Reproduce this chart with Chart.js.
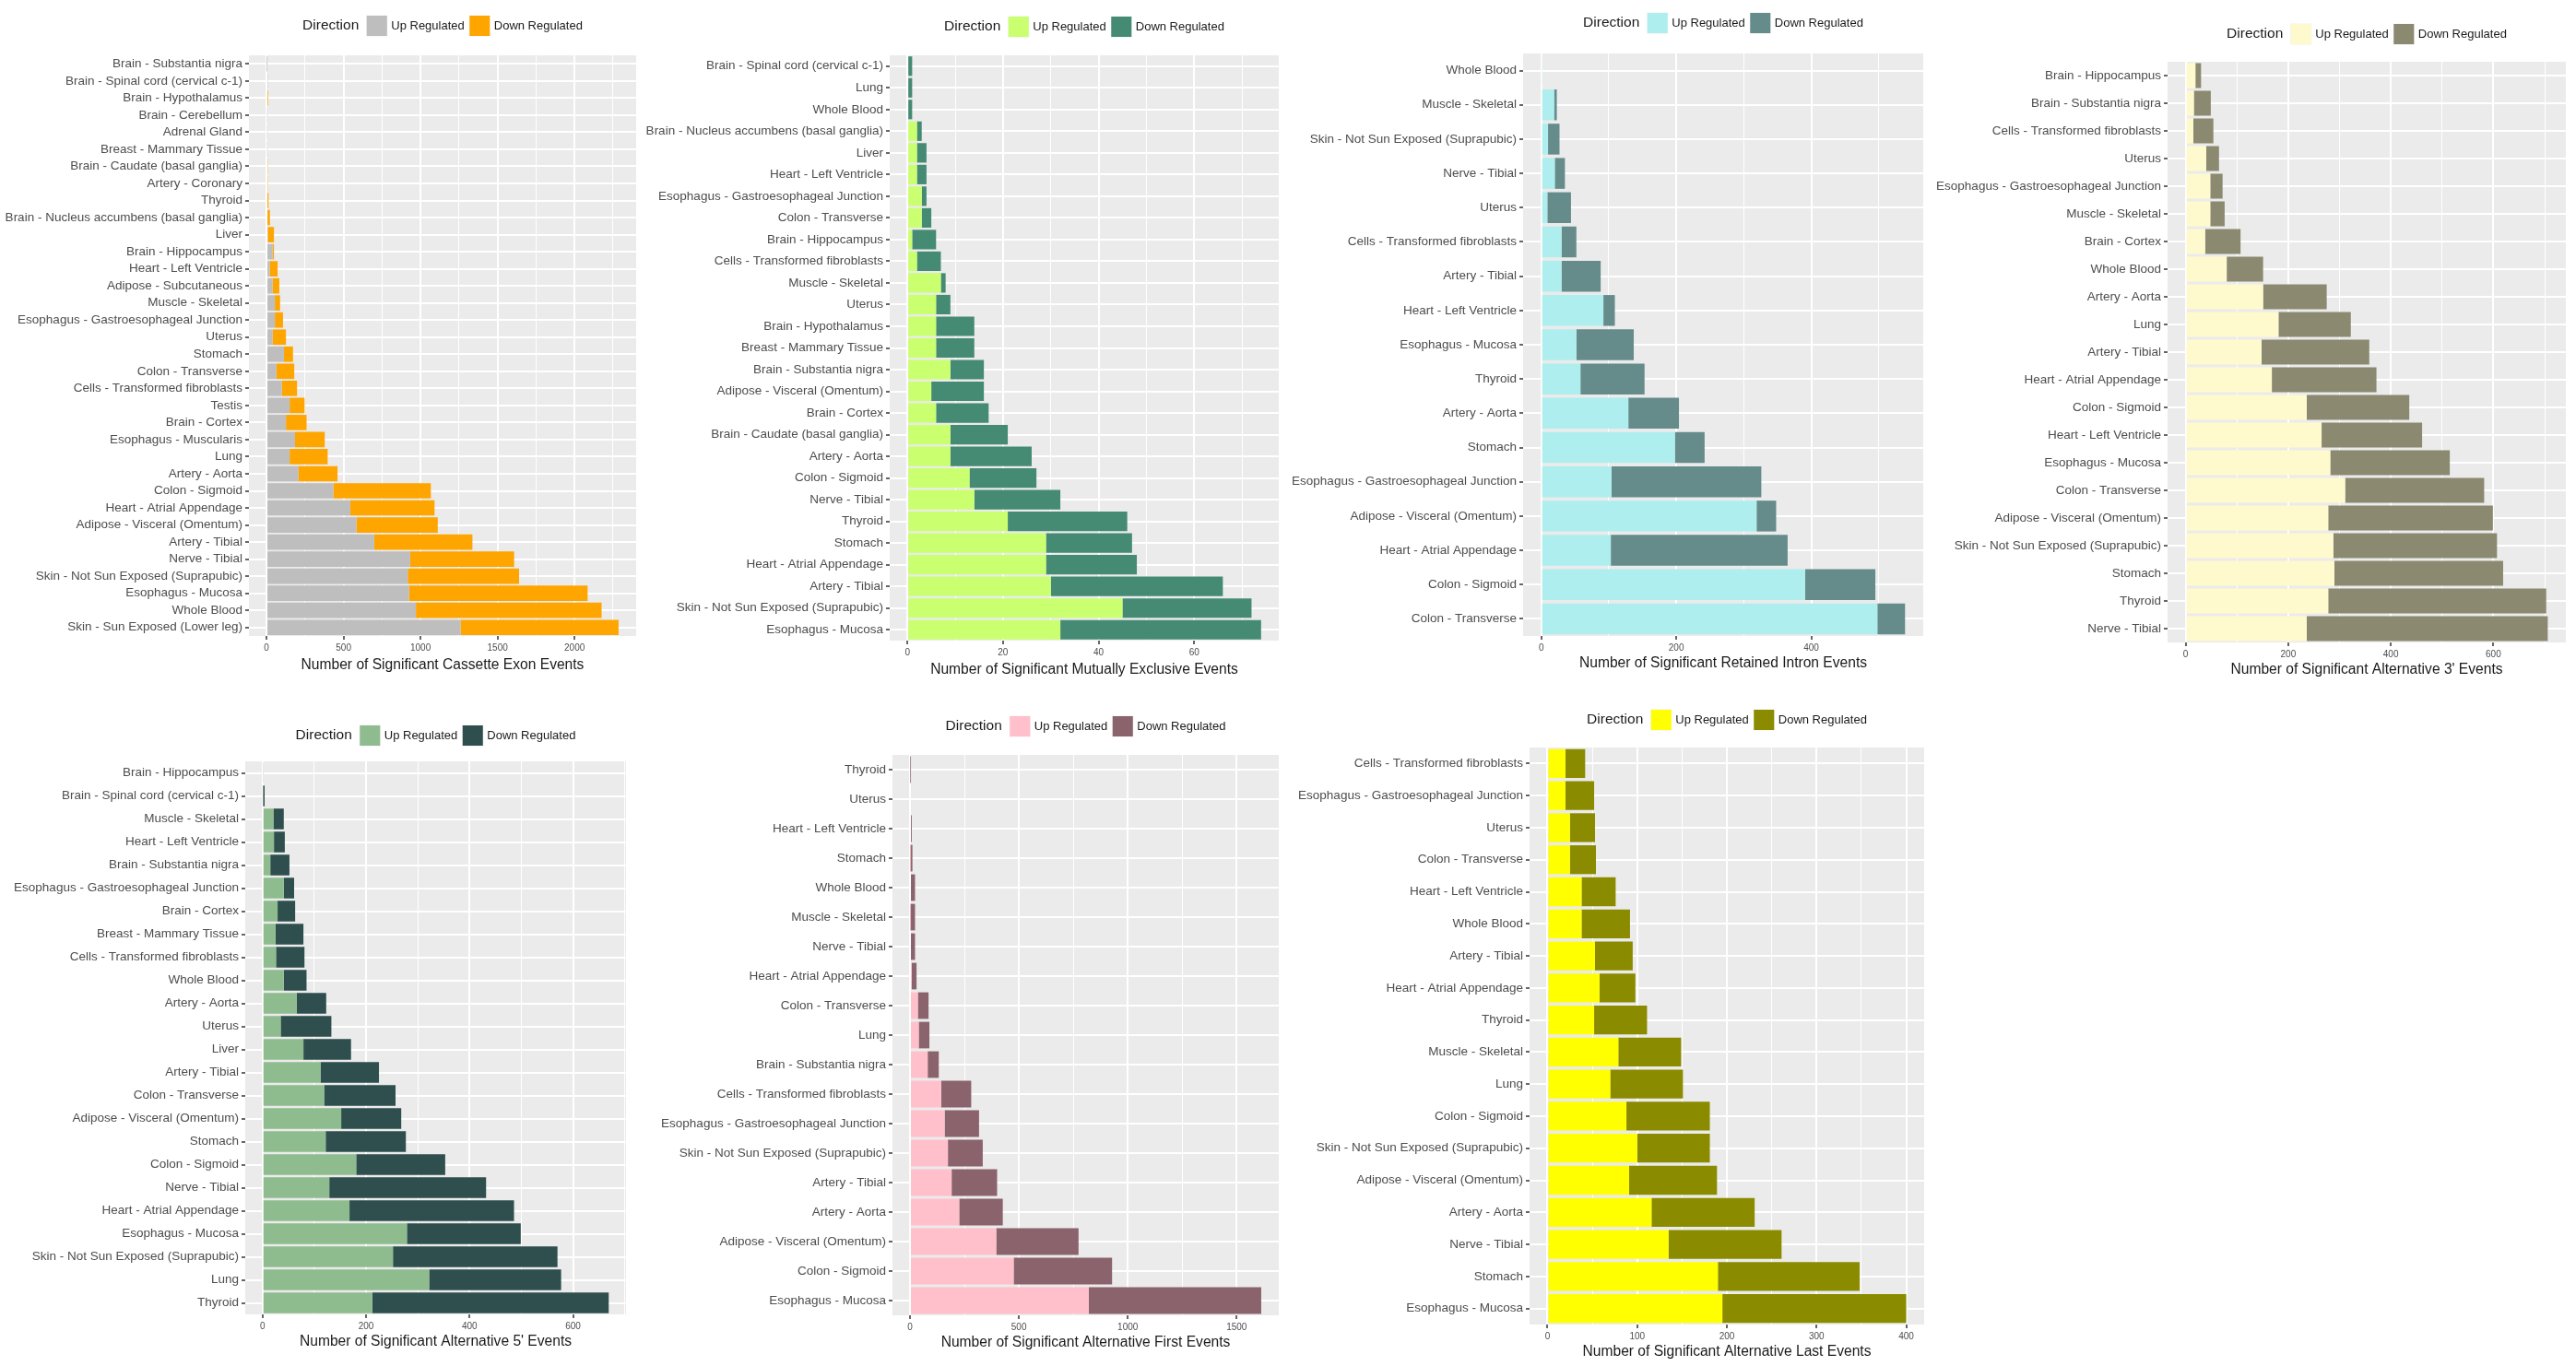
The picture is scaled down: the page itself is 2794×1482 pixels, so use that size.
<!DOCTYPE html>
<html>
<head>
<meta charset="utf-8">
<title>Significant splicing events by tissue</title>
<script src="https://cdn.jsdelivr.net/npm/chart.js@4/dist/chart.umd.min.js"></script>
<style>
  html, body { margin: 0; padding: 0; background: #ffffff; }
  body { width: 2794px; height: 1482px; position: relative; overflow: hidden; }
  canvas { position: absolute; }
</style>
</head>
<body>
<script>
// ---- Cassette exon events ----
const ceTissues = ['Brain - Substantia nigra', 'Brain - Spinal cord (cervical c-1)', 'Brain - Hypothalamus', 'Brain - Cerebellum', 'Adrenal Gland', 'Breast - Mammary Tissue', 'Brain - Caudate (basal ganglia)', 'Artery - Coronary', 'Thyroid', 'Brain - Nucleus accumbens (basal ganglia)', 'Liver', 'Brain - Hippocampus', 'Heart - Left Ventricle', 'Adipose - Subcutaneous', 'Muscle - Skeletal', 'Esophagus - Gastroesophageal Junction', 'Uterus', 'Stomach', 'Colon - Transverse', 'Cells - Transformed fibroblasts', 'Testis', 'Brain - Cortex', 'Esophagus - Muscularis', 'Lung', 'Artery - Aorta', 'Colon - Sigmoid', 'Heart - Atrial Appendage', 'Adipose - Visceral (Omentum)', 'Artery - Tibial', 'Nerve - Tibial', 'Skin - Not Sun Exposed (Suprapubic)', 'Esophagus - Mucosa', 'Whole Blood', 'Skin - Sun Exposed (Lower leg)'];
const ceUp   = [1, 8, 0, 4, 4, 4, 0, 0, 0, 6, 8, 40, 21, 40, 54, 54, 40, 113, 64, 99, 150, 126, 185, 150, 206, 434, 544, 584, 699, 933, 917, 925, 970, 1260];
const ceDown = [0, 0, 10, 0, 0, 0, 8, 8, 13, 16, 40, 8, 51, 43, 34, 53, 86, 59, 116, 99, 97, 134, 193, 247, 255, 633, 547, 528, 638, 675, 723, 1160, 1206, 1026];
const ceTicks = [0, 500, 1000, 1500, 2000];

// ---- Mutually exclusive exon events ----
const mxTissues = ['Brain - Spinal cord (cervical c-1)', 'Lung', 'Whole Blood', 'Brain - Nucleus accumbens (basal ganglia)', 'Liver', 'Heart - Left Ventricle', 'Esophagus - Gastroesophageal Junction', 'Colon - Transverse', 'Brain - Hippocampus', 'Cells - Transformed fibroblasts', 'Muscle - Skeletal', 'Uterus', 'Brain - Hypothalamus', 'Breast - Mammary Tissue', 'Brain - Substantia nigra', 'Adipose - Visceral (Omentum)', 'Brain - Cortex', 'Brain - Caudate (basal ganglia)', 'Artery - Aorta', 'Colon - Sigmoid', 'Nerve - Tibial', 'Thyroid', 'Stomach', 'Heart - Atrial Appendage', 'Artery - Tibial', 'Skin - Not Sun Exposed (Suprapubic)', 'Esophagus - Mucosa'];
const mxUp   = [0, 0, 0, 2, 2, 2, 3, 3, 1, 2, 7, 6, 6, 6, 9, 5, 6, 9, 9, 13, 14, 21, 29, 29, 30, 45, 32];
const mxDown = [1, 1, 1, 1, 2, 2, 1, 2, 5, 5, 1, 3, 8, 8, 7, 11, 11, 12, 17, 14, 18, 25, 18, 19, 36, 27, 42];
const mxTicks = [0, 20, 40, 60];

// ---- Retained intron events ----
const riTissues = ['Whole Blood', 'Muscle - Skeletal', 'Skin - Not Sun Exposed (Suprapubic)', 'Nerve - Tibial', 'Uterus', 'Cells - Transformed fibroblasts', 'Artery - Tibial', 'Heart - Left Ventricle', 'Esophagus - Mucosa', 'Thyroid', 'Artery - Aorta', 'Stomach', 'Esophagus - Gastroesophageal Junction', 'Adipose - Visceral (Omentum)', 'Heart - Atrial Appendage', 'Colon - Sigmoid', 'Colon - Transverse'];
const riUp   = [1, 19, 10, 20, 9, 30, 30, 92, 52, 58, 129, 198, 104, 319, 103, 391, 498];
const riDown = [0, 4, 17, 15, 35, 22, 58, 17, 85, 95, 75, 44, 222, 29, 262, 104, 41];
const riTicks = [0, 200, 400];

// ---- Alternative 3' splice site events ----
const a3Tissues = ['Brain - Hippocampus', 'Brain - Substantia nigra', 'Cells - Transformed fibroblasts', 'Uterus', 'Esophagus - Gastroesophageal Junction', 'Muscle - Skeletal', 'Brain - Cortex', 'Whole Blood', 'Artery - Aorta', 'Lung', 'Artery - Tibial', 'Heart - Atrial Appendage', 'Colon - Sigmoid', 'Heart - Left Ventricle', 'Esophagus - Mucosa', 'Colon - Transverse', 'Adipose - Visceral (Omentum)', 'Skin - Not Sun Exposed (Suprapubic)', 'Stomach', 'Thyroid', 'Nerve - Tibial'];
const a3Up   = [19, 16, 15, 40, 48, 48, 38, 80, 151, 181, 148, 168, 236, 265, 282, 311, 278, 288, 290, 278, 236];
const a3Down = [11, 33, 39, 25, 24, 28, 69, 71, 124, 141, 210, 204, 200, 196, 233, 271, 321, 319, 329, 425, 470];
const a3Ticks = [0, 200, 400, 600];

// ---- Alternative 5' splice site events ----
const a5Tissues = ['Brain - Hippocampus', 'Brain - Spinal cord (cervical c-1)', 'Muscle - Skeletal', 'Heart - Left Ventricle', 'Brain - Substantia nigra', 'Esophagus - Gastroesophageal Junction', 'Brain - Cortex', 'Breast - Mammary Tissue', 'Cells - Transformed fibroblasts', 'Whole Blood', 'Artery - Aorta', 'Uterus', 'Liver', 'Artery - Tibial', 'Colon - Transverse', 'Adipose - Visceral (Omentum)', 'Stomach', 'Colon - Sigmoid', 'Nerve - Tibial', 'Heart - Atrial Appendage', 'Esophagus - Mucosa', 'Skin - Not Sun Exposed (Suprapubic)', 'Lung', 'Thyroid'];
const a5Up   = [0, 1, 21, 22, 15, 41, 29, 25, 26, 41, 66, 35, 79, 112, 119, 152, 122, 181, 129, 168, 279, 252, 322, 212];
const a5Down = [2, 3, 20, 21, 37, 20, 34, 54, 55, 44, 57, 98, 92, 113, 138, 116, 155, 172, 303, 318, 220, 318, 255, 457];
const a5Ticks = [0, 200, 400, 600];

// ---- Alternative first exon events ----
const afTissues = ['Thyroid', 'Uterus', 'Heart - Left Ventricle', 'Stomach', 'Whole Blood', 'Muscle - Skeletal', 'Nerve - Tibial', 'Heart - Atrial Appendage', 'Colon - Transverse', 'Lung', 'Brain - Substantia nigra', 'Cells - Transformed fibroblasts', 'Esophagus - Gastroesophageal Junction', 'Skin - Not Sun Exposed (Suprapubic)', 'Artery - Tibial', 'Artery - Aorta', 'Adipose - Visceral (Omentum)', 'Colon - Sigmoid', 'Esophagus - Mucosa'];
const afUp   = [0, 4, 0, 1, 4, 2, 4, 8, 36, 40, 81, 143, 159, 174, 191, 226, 396, 476, 821];
const afDown = [1, 0, 8, 10, 19, 21, 19, 22, 49, 49, 51, 138, 158, 160, 209, 200, 378, 452, 792];
const afTicks = [0, 500, 1000, 1500];

// ---- Alternative last exon events ----
const alTissues = ['Cells - Transformed fibroblasts', 'Esophagus - Gastroesophageal Junction', 'Uterus', 'Colon - Transverse', 'Heart - Left Ventricle', 'Whole Blood', 'Artery - Tibial', 'Heart - Atrial Appendage', 'Thyroid', 'Muscle - Skeletal', 'Lung', 'Colon - Sigmoid', 'Skin - Not Sun Exposed (Suprapubic)', 'Adipose - Visceral (Omentum)', 'Artery - Aorta', 'Nerve - Tibial', 'Stomach', 'Esophagus - Mucosa'];
const alUp   = [20, 20, 25, 25, 38, 38, 53, 58, 52, 79, 70, 88, 100, 91, 116, 135, 190, 195];
const alDown = [22, 32, 28, 29, 38, 54, 42, 40, 59, 70, 81, 93, 81, 98, 115, 126, 158, 205];
const alTicks = [0, 100, 200, 300, 400];

const seriesNames = ['Up Regulated', 'Down Regulated'];
const FONT = '"Liberation Sans", Arial, Helvetica, sans-serif';

// Panel layout: canvas box, plotting panel rectangle, legend row and axis title row (page pixels)
const panels = [
  { tissues: ceTissues, up: ceUp, down: ceDown, ticks: ceTicks, title: 'Number of Significant Cassette Exon Events',
    colors: ['#BEBEBE', '#FFA500'], box: { x: 0, y: 0, w: 695, h: 745 }, plot: { l: 270, r: 690, t: 60, b: 690 }, legendY: 28, titleY: 722 },
  { tissues: mxTissues, up: mxUp, down: mxDown, ticks: mxTicks, title: 'Number of Significant Mutually Exclusive Events',
    colors: ['#CAFF70', '#458B74'], box: { x: 695, y: 0, w: 697, h: 745 }, plot: { l: 965, r: 1387, t: 60, b: 695 }, legendY: 29, titleY: 727 },
  { tissues: riTissues, up: riUp, down: riDown, ticks: riTicks, title: 'Number of Significant Retained Intron Events',
    colors: ['#AEEEEE', '#668B8B'], box: { x: 1392, y: 0, w: 697, h: 745 }, plot: { l: 1652, r: 2086, t: 58, b: 690 }, legendY: 25, titleY: 720 },
  { tissues: a3Tissues, up: a3Up, down: a3Down, ticks: a3Ticks, title: "Number of Significant Alternative 3' Events",
    colors: ['#FFFACD', '#8B8970'], box: { x: 2089, y: 0, w: 705, h: 745 }, plot: { l: 2351, r: 2783, t: 67, b: 697 }, legendY: 37, titleY: 727 },
  { tissues: a5Tissues, up: a5Up, down: a5Down, ticks: a5Ticks, title: "Number of Significant Alternative 5' Events",
    colors: ['#8FBC8F', '#2F4F4F'], box: { x: 0, y: 760, w: 695, h: 722 }, plot: { l: 266, r: 679, t: 826, b: 1426 }, legendY: 798, titleY: 1456 },
  { tissues: afTissues, up: afUp, down: afDown, ticks: afTicks, title: 'Number of Significant Alternative First Events',
    colors: ['#FFC0CB', '#8B636C'], box: { x: 695, y: 760, w: 697, h: 722 }, plot: { l: 968, r: 1387, t: 819, b: 1427 }, legendY: 788, titleY: 1457 },
  { tissues: alTissues, up: alUp, down: alDown, ticks: alTicks, title: 'Number of Significant Alternative Last Events',
    colors: ['#FFFF00', '#8B8B00'], box: { x: 1392, y: 760, w: 697, h: 722 }, plot: { l: 1659, r: 2087, t: 811, b: 1437 }, legendY: 781, titleY: 1467 }
];

// Grey plotting panel behind the grid
const panelBackground = {
  id: 'panelBackground',
  beforeDraw(chart) {
    const { ctx, chartArea: a } = chart;
    ctx.save();
    ctx.fillStyle = '#FFFFFF';
    ctx.fillRect(0, 0, chart.width, chart.height);
    ctx.fillStyle = '#EBEBEB';
    ctx.fillRect(a.left, a.top, a.right - a.left, a.bottom - a.top);
    ctx.restore();
  }
};

// One-row legend: "Direction" heading followed by the two colour keys
const directionLegend = {
  id: 'directionLegend',
  afterDraw(chart, args, opts) {
    const { ctx, chartArea: a } = chart;
    const headFont = '15.5px ' + FONT, itemFont = '13px ' + FONT;
    const key = 23, afterHead = 8, afterKey = 4, betweenItems = 5;
    ctx.save();
    ctx.textBaseline = 'middle';
    ctx.textAlign = 'left';
    ctx.font = headFont;
    const headW = ctx.measureText(opts.heading).width;
    ctx.font = itemFont;
    const items = chart.data.datasets.map(d => ({ label: d.label, color: d.backgroundColor, w: ctx.measureText(d.label).width }));
    const total = headW + afterHead + items.reduce((s, it, i) => s + (i ? betweenItems : 0) + key + afterKey + it.w, 0);
    let x = (a.left + a.right) / 2 - total / 2;
    const y = opts.y;
    ctx.font = headFont;
    ctx.fillStyle = '#1A1A1A';
    ctx.fillText(opts.heading, x, y);
    x += headW + afterHead;
    ctx.font = itemFont;
    items.forEach((it, i) => {
      if (i) x += betweenItems;
      ctx.fillStyle = '#F2F2F2';
      ctx.fillRect(x, y - key / 2, key, key);
      ctx.fillStyle = it.color;
      ctx.fillRect(x + 0.5, y - key / 2 + 0.5, key - 1, key - 1);
      x += key + afterKey;
      ctx.fillStyle = '#1A1A1A';
      ctx.fillText(it.label, x, y + 0.5);
      x += it.w;
    });
    ctx.restore();
  }
};

panels.forEach(p => {
  const canvas = document.createElement('canvas');
  canvas.width = p.box.w;
  canvas.height = p.box.h;
  canvas.style.left = p.box.x + 'px';
  canvas.style.top = p.box.y + 'px';
  canvas.style.width = p.box.w + 'px';
  canvas.style.height = p.box.h + 'px';
  document.body.appendChild(canvas);

  // value axis limits with a 5% margin on both ends of the totals' range
  const totals = p.up.map((u, i) => u + p.down[i]);
  const maxTotal = Math.max(...totals);
  const xMin = -0.05 * maxTotal;
  const xMax = 1.05 * maxTotal;

  // major breaks carry labels, minor breaks sit halfway between them
  const step = p.ticks[1] - p.ticks[0];
  const majors = new Set(p.ticks);
  const minors = [];
  for (let v = p.ticks[0] - step / 2; v <= xMax; v += step) if (v >= xMin) minors.push(v);
  const breaks = [...p.ticks, ...minors].sort((a, b) => a - b);
  const isMajor = ctx => !!(ctx.tick && majors.has(ctx.tick.value));

  const titleSize = 15.6;

  new Chart(canvas, {
    type: 'bar',
    data: {
      labels: p.tissues,
      datasets: [
        { label: seriesNames[0], data: p.up, backgroundColor: p.colors[0], borderWidth: 0 },
        { label: seriesNames[1], data: p.down, backgroundColor: p.colors[1], borderWidth: 0 }
      ]
    },
    options: {
      indexAxis: 'y',
      responsive: false,
      animation: false,
      devicePixelRatio: 1,
      barPercentage: 0.9,
      categoryPercentage: 1,
      layout: { padding: { left: 0, top: p.plot.t - p.box.y, right: p.box.x + p.box.w - p.plot.r, bottom: 0 } },
      plugins: {
        legend: { display: false },
        tooltip: { enabled: false },
        directionLegend: { heading: 'Direction', y: p.legendY - p.box.y }
      },
      scales: {
        x: {
          type: 'linear',
          position: 'bottom',
          stacked: true,
          min: xMin,
          max: xMax,
          afterBuildTicks: s => { s.ticks = breaks.map(v => ({ value: v })); },
          afterFit: s => { s.height = p.box.y + p.box.h - p.plot.b; },
          ticks: {
            autoSkip: false,
            maxRotation: 0,
            padding: 3,
            color: '#4D4D4D',
            font: { family: FONT, size: 10 },
            callback: v => (majors.has(v) ? String(v) : '')
          },
          grid: {
            color: '#FFFFFF',
            lineWidth: ctx => (isMajor(ctx) ? 2 : 1),
            drawTicks: true,
            tickLength: 4,
            tickWidth: 1.5,
            tickColor: ctx => (isMajor(ctx) ? '#333333' : 'rgba(0,0,0,0)')
          },
          border: { display: false },
          title: {
            display: true,
            text: p.title,
            color: '#1A1A1A',
            font: { family: FONT, size: titleSize },
            padding: { top: 0, bottom: p.box.y + p.box.h - p.titleY - 0.6 * titleSize }
          }
        },
        y: {
          type: 'category',
          stacked: true,
          afterFit: s => { s.width = p.plot.l - p.box.x; },
          ticks: {
            autoSkip: false,
            padding: 3,
            color: '#4D4D4D',
            font: { family: FONT, size: 13.5 }
          },
          grid: {
            color: '#FFFFFF',
            lineWidth: 2,
            offset: false,
            drawTicks: true,
            tickLength: 4,
            tickWidth: 1.5,
            tickColor: '#333333'
          },
          border: { display: false }
        }
      }
    },
    plugins: [panelBackground, directionLegend]
  });
});
</script>
</body>
</html>
